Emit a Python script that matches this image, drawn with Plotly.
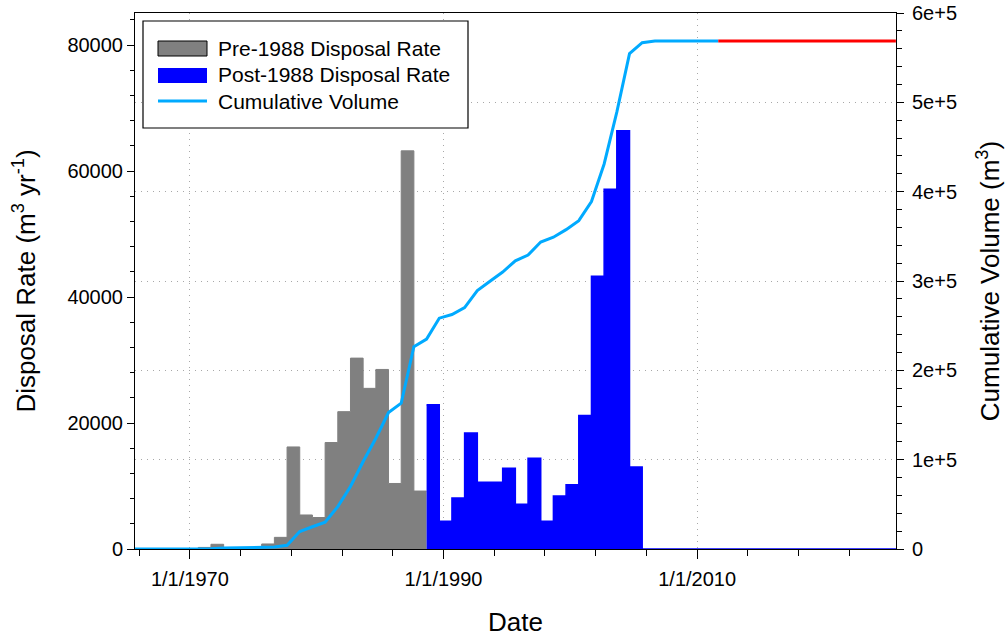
import plotly.graph_objects as go

# ---------------- data ----------------
# disposal rate per (fiscal) year, year ending in September
pre_years = list(range(1966, 1989))
pre_rates = [0, 0, 0, 0, 0, 250, 750, 150, 150, 150, 800, 1850, 16200, 5400,
             5000, 16900, 21800, 30300, 25500, 28500, 10400, 63200, 9200]

post_years = list(range(1989, 2006))
post_rates = [22900, 4400, 8100, 18400, 10600, 10600, 12800, 7100, 14400, 4400,
              8400, 10200, 21200, 43300, 57100, 66400, 13000]
post_tail_years = [2006, 2026]          # zero disposal afterwards
post_tail_rates = [0, 0]

cum_years = [1965, 1970, 1971, 1972, 1973, 1974, 1975, 1976, 1977, 1978, 1979,
             1980, 1981, 1982, 1983, 1984, 1985, 1986, 1987, 1988, 1989, 1990,
             1991, 1992, 1993, 1994, 1995, 1996, 1997, 1998, 1999, 2000, 2001,
             2002, 2003, 2004, 2005, 2006, 2011]
cum_vals = [0, 0, 250, 1000, 1150, 1300, 1450, 2250, 4200, 19500, 24900,
            29900, 47500, 70000, 98000, 124000, 152700, 163200, 226500, 235000,
            258400, 262500, 270300, 289200, 299700, 310000, 322600, 329000,
            343600, 349000, 357500, 367600, 389000, 431000, 489000, 554500,
            566800, 568700, 568700]

proj_years = [2011, 2025]
proj_vals = [568700, 568700]

legend_names = ["Pre-1988 Disposal Rate", "Post-1988 Disposal Rate", "Cumulative Volume"]


def ye(y):
    """date marking the end of fiscal year y"""
    return f"{y}-09-01"


def step_x(years):
    return [ye(y - 1) for y in years] + [ye(years[-1])]


GREY = "#808080"
BLUE = "#0000FF"
CYAN = "#00AAFF"
RED = "#FF0000"
GRID = "#a8a8a8"
FONT = "Liberation Sans, Arial, sans-serif"

fig = go.Figure()

fig.add_trace(go.Scatter(
    x=step_x(pre_years), y=pre_rates + [pre_rates[-1]],
    mode="lines", line=dict(shape="hv", color=GREY, width=1),
    fill="tozeroy", fillcolor=GREY, name=legend_names[0], showlegend=False,
    yaxis="y"))

px_ = step_x(post_years) + [ye(y) for y in post_tail_years]
py_ = post_rates + [post_tail_rates[0]] + post_tail_rates
fig.add_trace(go.Scatter(
    x=px_, y=py_,
    mode="lines", line=dict(shape="hv", color=BLUE, width=1.5),
    fill="tozeroy", fillcolor=BLUE, name=legend_names[1], showlegend=False,
    yaxis="y"))

fig.add_trace(go.Scatter(
    x=[ye(y) for y in cum_years], y=cum_vals, mode="lines",
    line=dict(color=CYAN, width=3), name=legend_names[2], showlegend=False,
    yaxis="y2"))

fig.add_trace(go.Scatter(
    x=[ye(y) for y in proj_years], y=proj_vals, mode="lines",
    line=dict(color=RED, width=3), name="Projected", showlegend=False,
    yaxis="y2"))

# ---------------- layout ----------------
W, H = 1008, 637
L, R, T, B = 135, 112, 13, 88
pw, ph = W - L - R, H - T - B


def pxx(v):
    return (v - L) / pw


def pyy(v):
    return (H - B - v) / ph


fig.update_layout(
    width=W, height=H,
    margin=dict(l=L, r=R, t=T, b=B, autoexpand=False),
    paper_bgcolor="white", plot_bgcolor="white",
    font=dict(family=FONT, size=20, color="black"),
    showlegend=False,
    xaxis=dict(
        type="date", range=["1965-09-05", "2025-09-05"], automargin=False,
        tick0="1970-01-01", dtick="M240", tickformat="%-m/%-d/%Y",
        ticks="outside", ticklen=9, tickwidth=1, tickcolor="black",
        ticklabelstandoff=3,
        minor=dict(dtick="M48", tick0="1970-01-01", ticks="outside", ticklen=6,
                   tickcolor="black", showgrid=False),
        showgrid=True, gridcolor=GRID, griddash="1px,5px", gridwidth=1,
        showline=True, linecolor="black", linewidth=1, mirror=True,
        zeroline=False,
        title=dict(text="Date", font=dict(size=26), standoff=30),
        tickfont=dict(size=20),
    ),
    yaxis=dict(
        range=[0, 85080], tickvals=[0, 20000, 40000, 60000, 80000],
        tickformat="d", automargin=False,
        ticks="outside", ticklen=7, tickcolor="black",
        minor=dict(dtick=4000, tick0=0, ticks="outside", ticklen=4, tickcolor="black",
                   showgrid=False),
        showgrid=False, zeroline=False,
        showline=True, linecolor="black", linewidth=1,
        title=dict(text="Disposal Rate (m<sup>3</sup> yr<sup>-1</sup>)",
                   font=dict(size=26), standoff=24),
        tickfont=dict(size=20),
    ),
    yaxis2=dict(
        overlaying="y", side="right", range=[0, 600000], automargin=False,
        tickvals=[0, 100000, 200000, 300000, 400000, 500000, 600000],
        ticktext=["0", "1e+5", "2e+5", "3e+5", "4e+5", "5e+5", "6e+5"],
        ticks="outside", ticklen=7, tickcolor="black",
        ticklabelstandoff=4, ticklabeloverflow="allow",
        minor=dict(dtick=20000, tick0=0, ticks="outside", ticklen=5, tickcolor="black",
                   showgrid=False),
        showgrid=True, gridcolor=GRID, griddash="1px,5px", gridwidth=1,
        zeroline=False,
        showline=True, linecolor="black", linewidth=1,
        title=dict(text="Cumulative Volume (m<sup>3</sup>)", font=dict(size=26),
                   standoff=24),
        tickfont=dict(size=20),
    ),
)

# ---------------- legend (drawn) ----------------
shapes = [
    dict(type="rect", xref="paper", yref="paper",
         x0=pxx(143), x1=pxx(468), y0=pyy(128), y1=pyy(21),
         line=dict(color="black", width=1.2), fillcolor="white", layer="above"),
    dict(type="rect", xref="paper", yref="paper",
         x0=pxx(158), x1=pxx(207), y0=pyy(56), y1=pyy(41),
         line=dict(color="black", width=1), fillcolor=GREY, layer="above"),
    dict(type="rect", xref="paper", yref="paper",
         x0=pxx(158), x1=pxx(207), y0=pyy(83), y1=pyy(68),
         line=dict(color=BLUE, width=0), fillcolor=BLUE, layer="above"),
    dict(type="line", xref="paper", yref="paper",
         x0=pxx(158), x1=pxx(207), y0=pyy(101), y1=pyy(101),
         line=dict(color=CYAN, width=3), layer="above"),
]
fig.update_layout(shapes=shapes)
for name, yc in zip(legend_names, [48, 75, 101]):
    fig.add_annotation(xref="paper", yref="paper", x=pxx(216), y=pyy(yc),
                       text=name, showarrow=False, xanchor="left", yanchor="middle",
                       font=dict(size=21, family=FONT, color="black"))

# remove the page's default 8px body margin so the figure fills the window
fig.write_html("out.html",
               config={"displayModeBar": False},
               post_script="document.body.style.margin='0';"
                           "document.body.style.overflow='hidden';")
